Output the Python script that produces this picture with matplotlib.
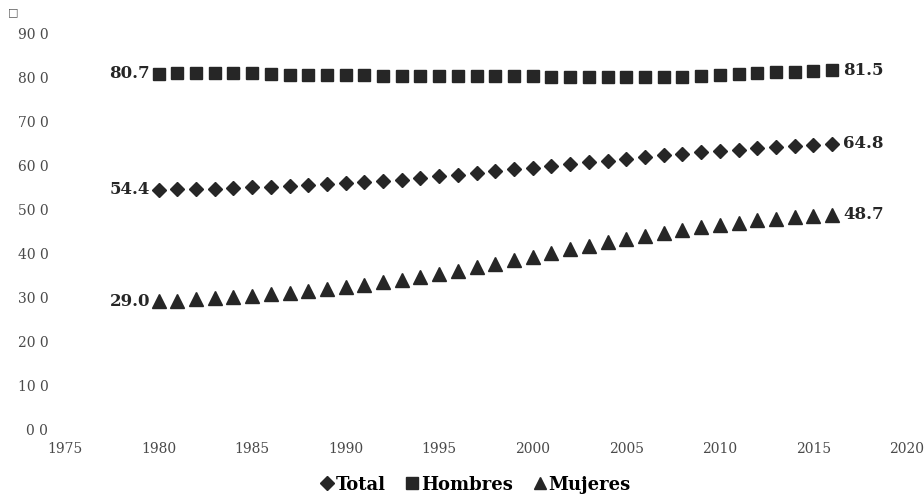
import matplotlib

matplotlib.use("Agg")
import matplotlib.pyplot as plt  # noqa: E402
from matplotlib.lines import Line2D  # noqa: E402

years = list(range(1980, 2017))

total = [54.4, 54.5, 54.5, 54.6, 54.8, 54.9, 55.0, 55.2, 55.4, 55.6,
         55.8, 56.1, 56.4, 56.7, 57.0, 57.4, 57.8, 58.2, 58.6, 59.0,
         59.4, 59.8, 60.2, 60.6, 61.0, 61.4, 61.8, 62.2, 62.6, 62.9,
         63.2, 63.5, 63.8, 64.1, 64.4, 64.6, 64.8]

hombres = [80.7, 80.8, 80.8, 80.8, 80.8, 80.8, 80.7, 80.4, 80.4, 80.4,
           80.4, 80.4, 80.3, 80.3, 80.3, 80.3, 80.3, 80.3, 80.3, 80.3,
           80.3, 80.0, 80.0, 80.0, 80.0, 80.0, 80.0, 80.0, 80.0, 80.3,
           80.4, 80.7, 80.8, 81.1, 81.2, 81.4, 81.5]

mujeres = [29.0, 29.2, 29.5, 29.7, 30.0, 30.3, 30.6, 30.9, 31.3, 31.8,
           32.3, 32.8, 33.3, 33.9, 34.5, 35.2, 36.0, 36.8, 37.6, 38.4,
           39.2, 40.0, 40.8, 41.6, 42.4, 43.1, 43.8, 44.5, 45.2, 45.8,
           46.4, 46.9, 47.4, 47.8, 48.1, 48.4, 48.7]

x_ticks = [1975, 1980, 1985, 1990, 1995, 2000, 2005, 2010, 2015, 2020]
y_ticks = [0, 10, 20, 30, 40, 50, 60, 70, 80, 90]
y_tick_labels = ["0 0", "10 0", "20 0", "30 0", "40 0",
                 "50 0", "60 0", "70 0", "80 0", "90 0"]

serie_names = ["Total", "Hombres", "Mujeres"]

ink = "#262626"
serif = ["DejaVu Serif"]

fig = plt.figure(figsize=(9.24, 4.97), dpi=100)
ax = fig.add_axes([0.0703, 0.1368, 0.9113, 0.7968])

ax.plot(years, total, linestyle="none", marker="D", markersize=7.2, color=ink)
ax.plot(years, hombres, linestyle="none", marker="s", markersize=8.5, color=ink)
ax.plot(years, mujeres, linestyle="none", marker="^", markersize=9.5, color=ink)

# etiquetas de inicio y fin
for serie in (total, hombres, mujeres):
    ax.annotate(f"{serie[0]:.1f}", (years[0], serie[0]), xytext=(-6, 0),
                textcoords="offset points", ha="right", va="center",
                fontsize=12, fontweight="bold", family=serif, color=ink)
    ax.annotate(f"{serie[-1]:.1f}", (years[-1], serie[-1]), xytext=(8, 0),
                textcoords="offset points", ha="left", va="center",
                fontsize=12, fontweight="bold", family=serif, color=ink)

ax.set_xlim(1975, 2020)
ax.set_ylim(0, 90)
ax.set_xticks(x_ticks)
ax.set_yticks(y_ticks)
ax.set_yticklabels(y_tick_labels)
for lbl in ax.get_xticklabels() + ax.get_yticklabels():
    lbl.set_family(serif)
    lbl.set_fontsize(10)
    lbl.set_color("#4a4a4a")
ax.tick_params(length=0)
ax.tick_params(axis="x", pad=9)
ax.tick_params(axis="y", pad=12)
for sp in ax.spines.values():
    sp.set_visible(False)

handles = [
    Line2D([], [], linestyle="none", marker="D", markersize=7, color=ink),
    Line2D([], [], linestyle="none", marker="s", markersize=8, color=ink),
    Line2D([], [], linestyle="none", marker="^", markersize=9, color=ink),
]
fig.legend(handles, serie_names, loc="center", bbox_to_anchor=(0.514, 0.025),
           ncol=3, frameon=False, handletextpad=0.05, columnspacing=1.0,
           handlelength=0.9, prop={"family": serif, "weight": "bold", "size": 13})

fig.text(0.009, 0.975, "\u25a1", fontsize=8, color="#555555", va="center")

fig.savefig("out.png", dpi=100)
